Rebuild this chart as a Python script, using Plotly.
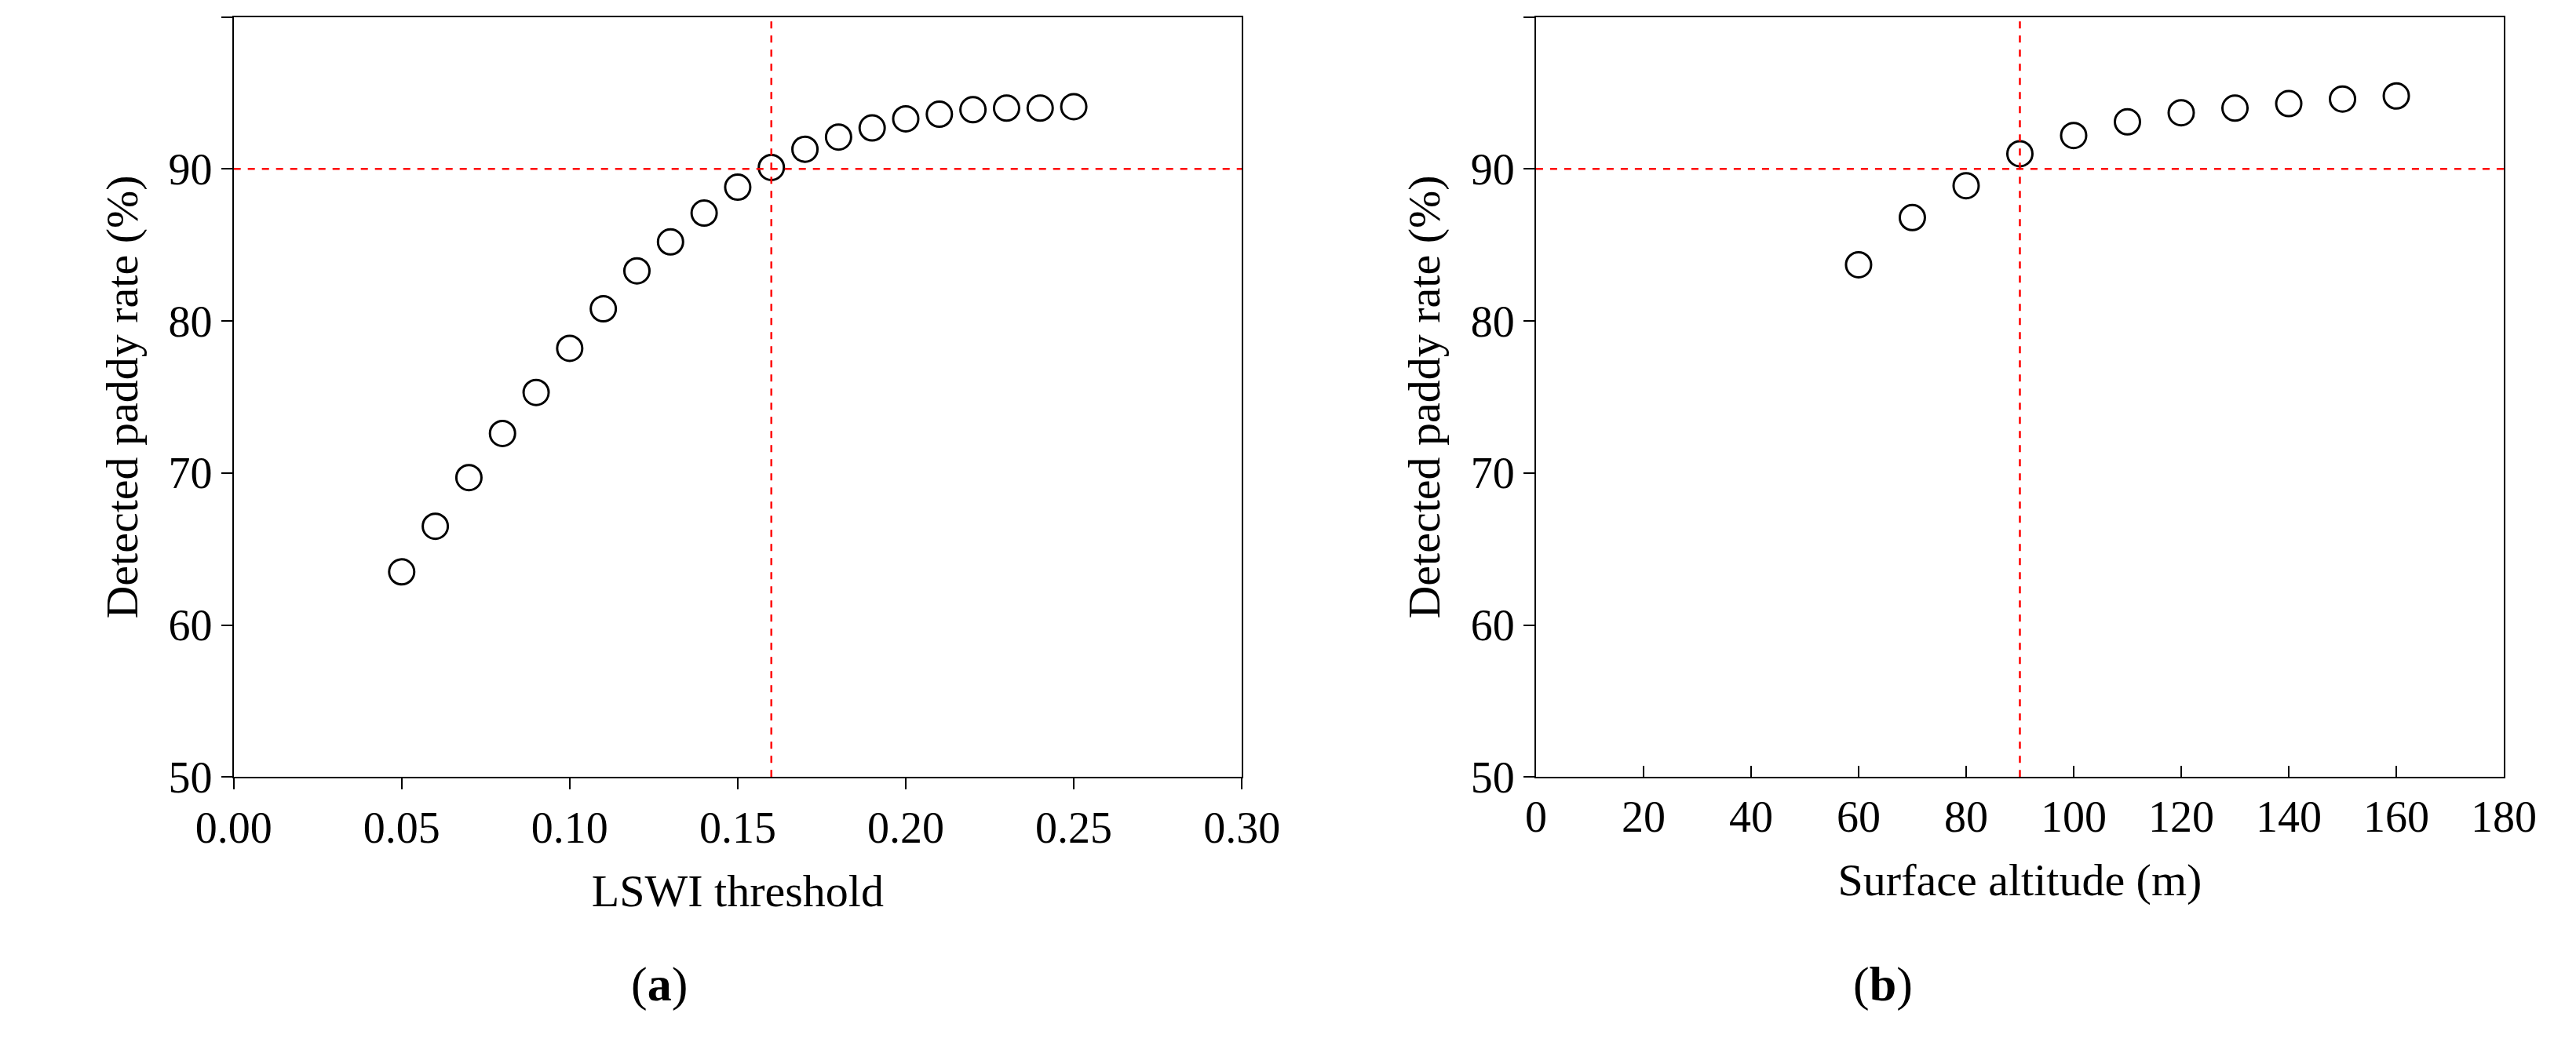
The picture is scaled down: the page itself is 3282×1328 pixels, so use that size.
import plotly.graph_objects as go

lswi = [0.05,0.06,0.07,0.08,0.09,0.10,0.11,0.12,0.13,0.14,0.15,0.16,0.17,0.18,0.19,0.20,0.21,0.22,0.23,0.24,0.25]
rate_a = [63.5,66.5,69.7,72.6,75.3,78.2,80.8,83.3,85.2,87.1,88.8,90.1,91.3,92.1,92.7,93.3,93.6,93.9,94.0,94.0,94.1]
alt = [60,70,80,90,100,110,120,130,140,150,160]
rate_b = [83.7,86.8,88.9,91.0,92.2,93.1,93.7,94.0,94.3,94.6,94.8]

F = dict(family="Liberation Serif", color="black")
fig = go.Figure()
mk = dict(symbol="circle-open", size=32, color="black", line=dict(width=3))
fig.add_trace(go.Scatter(x=lswi, y=rate_a, mode="markers", marker=mk, xaxis="x", yaxis="y"))
fig.add_trace(go.Scatter(x=alt, y=rate_b, mode="markers", marker=mk, xaxis="x2", yaxis="y2"))

red = dict(color="red", width=2.5, dash="dash")
shapes = [
    dict(type="line", xref="x", yref="y", x0=0, x1=0.3, y0=90, y1=90, line=red),
    dict(type="line", xref="x", yref="y", x0=0.16, x1=0.16, y0=50, y1=100, line=red),
    dict(type="line", xref="x2", yref="y2", x0=0, x1=180, y0=90, y1=90, line=red),
    dict(type="line", xref="x2", yref="y2", x0=90, x1=90, y0=50, y1=100, line=red),
]
ax = dict(showgrid=False, zeroline=False, showline=True, linecolor="black", linewidth=2, mirror=True,
          ticks="outside", ticklen=14, tickwidth=2, tickcolor="black", tickfont=dict(size=56, **F),
          title_font=dict(size=58, **F))
fig.update_layout(
    width=3282, height=1328, margin=dict(l=0, r=0, t=0, b=0),
    paper_bgcolor="white", plot_bgcolor="white", showlegend=False, shapes=shapes,
    xaxis=dict(ax, domain=[0.0756, 0.479], range=[0, 0.3], dtick=0.05, tickformat=".2f",
               title=dict(text="LSWI threshold", standoff=30)),
    yaxis=dict(ax, domain=[0.242, 0.9895], range=[50, 100], dtick=10,
               title=dict(text="Detected paddy rate (%)", standoff=20)),
    xaxis2=dict(ax, domain=[0.5967, 0.984], range=[0, 180], dtick=20, ticks="inside", anchor="y2",
                title=dict(text="Surface altitude (m)", standoff=30)),
    yaxis2=dict(ax, domain=[0.242, 0.9895], range=[50, 100], dtick=10, anchor="x2",
                title=dict(text="Detected paddy rate (%)", standoff=20)),
    annotations=[
        dict(text="(<b>a</b>)", xref="paper", yref="paper", x=0.234, y=0.01, showarrow=False,
             font=dict(size=62, **F), yanchor="bottom"),
        dict(text="(<b>b</b>)", xref="paper", yref="paper", x=0.748, y=0.01, showarrow=False,
             font=dict(size=62, **F), yanchor="bottom"),
    ],
)
fig.write_html("out.html")
